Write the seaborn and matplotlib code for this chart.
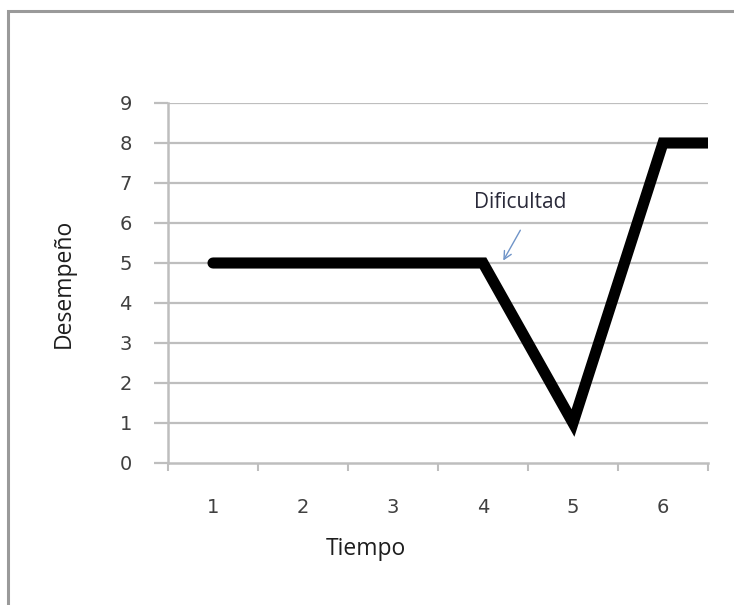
import matplotlib
matplotlib.use('Agg')
import matplotlib.pyplot as plt
import seaborn as sns
import pandas as pd
from matplotlib.patches import Rectangle

# Data (last point sits past the right edge and is clipped)
tiempo = [1, 2, 3, 4, 5, 6, 7]
desempeno = [5, 5, 5, 5, 1, 8, 8]
x_labels = ['1', '2', '3', '4', '5', '6']
y_ticks = [0, 1, 2, 3, 4, 5, 6, 7, 8, 9]

df = pd.DataFrame({'Tiempo': tiempo, 'Desempeño': desempeno})

sns.set_style('white')
plt.rcParams['font.family'] = ['DejaVu Sans']

fig = plt.figure(figsize=(7.34, 6.05), dpi=100)
ax = fig.add_axes([168 / 734, 1 - 463 / 605, 540 / 734, 360 / 605])

grid_col = '#BEBEBE'
for y in y_ticks[1:]:
    ax.axhline(y, color=grid_col, lw=1.6, zorder=0)

sns.lineplot(data=df, x='Tiempo', y='Desempeño', color='black', lw=8,
             ax=ax, solid_capstyle='round', solid_joinstyle='miter', zorder=3)

ax.set_xlim(0.5, 6.5)
ax.set_ylim(0, 9)

# category axis: tick marks between categories, labels at centers
ax.set_xticks([i + 0.5 for i in range(0, 7)])
ax.set_xticklabels([])
ax.set_xticks(range(1, 7), minor=True)
ax.set_xticklabels(x_labels, minor=True)
ax.tick_params(axis='x', which='major', direction='out', length=6, width=1.5,
               color=grid_col, bottom=True)
ax.tick_params(axis='x', which='minor', length=0, pad=25, labelsize=14,
               labelcolor='#404040')

ax.set_yticks(y_ticks)
ax.tick_params(axis='y', direction='out', length=10, width=1.6, color=grid_col,
               left=True, pad=16, labelsize=14, labelcolor='#404040')

for side in ['top', 'right']:
    ax.spines[side].set_visible(False)
for side in ['left', 'bottom']:
    ax.spines[side].set_color(grid_col)
    ax.spines[side].set_linewidth(1.8)

ax.set_xlabel('Tiempo', fontsize=16.5, family='Open Sans', color='#1E1E1E')
ax.set_ylabel('Desempeño', fontsize=16.5, family='Open Sans', color='#1E1E1E')
ax.xaxis.set_label_coords(198 / 540, -74 / 360)
ax.yaxis.set_label_coords(-92 / 540, 0.5)

# annotation
ax.text(4.41, 6.5, 'Dificultad', fontsize=15, family='Open Sans', color='#2A2A3A',
        ha='center', va='center')
ax.annotate('', xy=(4.21, 5.0), xytext=(4.43, 5.88),
            arrowprops=dict(arrowstyle='->', color='#6F94C8', lw=1.0,
                            mutation_scale=14))

# outer chart frame
fig.patches.append(Rectangle((8 / 734, -0.1), 1.1, 1 - 11 / 605 + 0.1,
                             transform=fig.transFigure, fill=False,
                             edgecolor='#9A9A9A', lw=2.2))

fig.savefig('out.png', dpi=100)
